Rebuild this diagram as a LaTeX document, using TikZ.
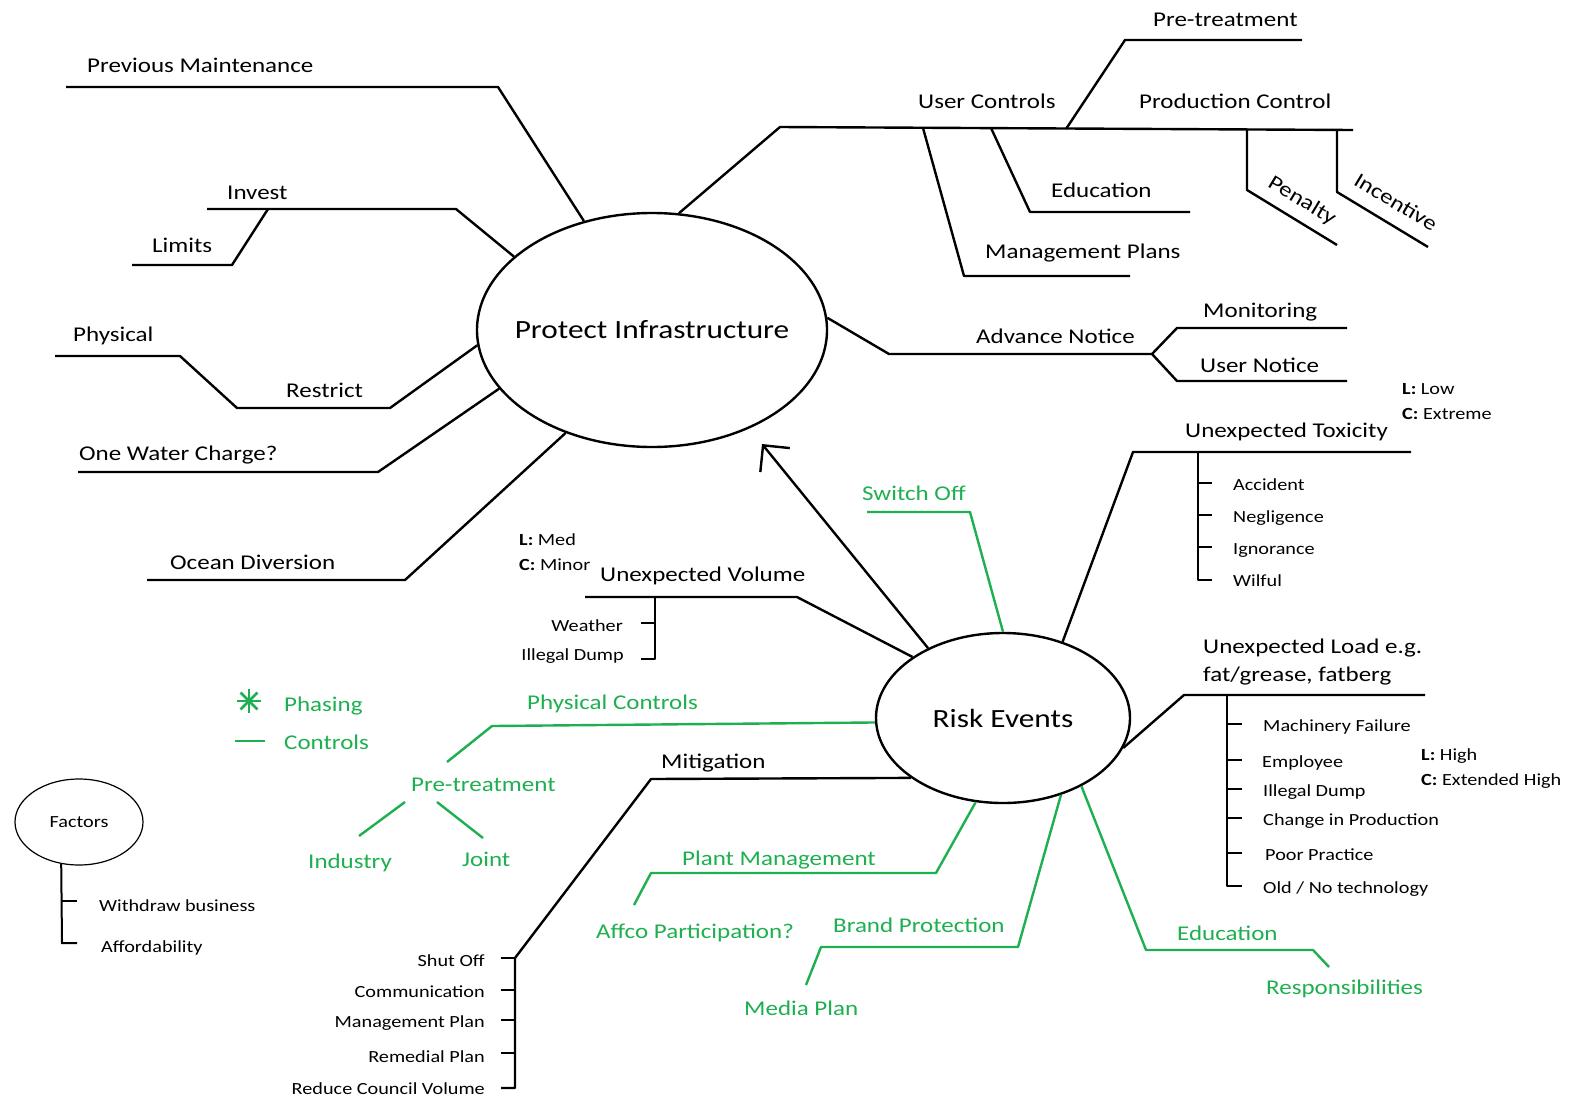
\documentclass[tikz,border=0pt]{standalone}
\usepackage{fontspec}
\setmainfont{Carlito}[FakeStretch=1.19]
\usetikzlibrary{arrows.meta,shapes.geometric}
\definecolor{gr}{RGB}{30,176,80}
\begin{document}
\begin{tikzpicture}[x=1pt,y=-1pt,
  bl/.style={line width=2.4pt, line join=round},
  gl/.style={bl, draw=gr},
  lab/.style={anchor=mid west, inner sep=0pt, yshift=-6pt, font=\fontsize{21}{24}\selectfont},
  glab/.style={lab, text=gr},
  sm/.style={anchor=mid west, inner sep=0pt, yshift=-5pt, font=\fontsize{17}{20}\selectfont},
  smr/.style={sm, anchor=mid east},
  lc/.style={sm},
  bigell/.style={draw, ellipse, line width=2.4pt, inner sep=0pt},
  bigtxt/.style={inner sep=0pt, font=\fontsize{26.3}{30}\selectfont},
]
\useasboundingbox[fill=white] (0,0) rectangle (1573,1098);

% ---------- main ellipses ----------
\node[bigell, minimum width=350pt, minimum height=234pt] (pi) at (652,330) {};
\node[bigtxt] (pit) at (pi.center) {Protect Infrastructure};
\node[bigell, minimum width=254pt, minimum height=170pt] (re) at (1003,718) {};
\node[bigtxt] (ret) at (re.center) {Risk Events};
\node[draw, ellipse, line width=1.2pt, minimum width=128pt, minimum height=86pt, inner sep=0pt] (fac) at (79,822) {};
\node[inner sep=0pt, font=\fontsize{17}{20}\selectfont] (fact) at (fac.center) {Factors};

% ---------- coordinates ----------
\coordinate (pmE) at (66,87);
\coordinate (invE) at (207,209);
\coordinate (limE) at (132,265);
\coordinate (phyE) at (55,356);
\coordinate (owcE) at (78,472);
\coordinate (ocE) at (147,580);
\coordinate (ucE) at (1353,130);
\coordinate (ptE) at (1302,40);
\coordinate (mpE) at (1130,276);
\coordinate (edE) at (1190,212);
\coordinate (penE) at (1337,245);
\coordinate (incE) at (1428,247);
\coordinate (anF) at (1152,354);
\coordinate (monE) at (1347,328);
\coordinate (unE) at (1347,381);
\coordinate (toxE) at (1411,452);
\coordinate (loadE) at (1425,695);
\coordinate (volE) at (585,597);
\coordinate (arT) at (762,444);
\coordinate (mitB) at (515,958);
\coordinate (swE) at (867,512);
\coordinate (pcE) at (447,762);
\coordinate (pmgE) at (634,905);
\coordinate (bpE) at (806,985);
\coordinate (eduE) at (1329,967);

% ---------- Protect Infrastructure branches ----------
\draw[bl] (pi.122.8) -- (498,87) -- (pmE);
\draw[bl] (pi.152) -- (456,209) -- (invE);
\draw[bl] (268,209) -- (232,265) -- (limE);
\draw[bl] (pi.185.6) -- (390,408) -- (237,408) -- (180,356) -- (phyE);
\draw[bl] (pi.201.8) -- (378,472) -- (owcE);
\draw[bl] (pi.230.2) -- (405,580) -- (ocE);
\draw[bl] (pi.77.1) -- (780,127) -- (ucE);
\draw[bl] (1066,129) -- (1125,40) -- (ptE);
\draw[bl] (923,128) -- (964,276) -- (mpE);
\draw[bl] (991,128) -- (1030,212) -- (edE);
\draw[bl] (1247,130) -- (1247,190) -- (penE);
\draw[bl] (1337,131) -- (1337,192) -- (incE);
\draw[bl] (pi.4.9) -- (889,354) -- (anF);
\draw[bl] (anF) -- (1177,328) -- (monE);
\draw[bl] (anF) -- (1177,381) -- (unE);

\node[lab] (tpm) at (87,64) {Previous Maintenance};
\node[lab] (tinv) at (227,191) {Invest};
\node[lab] (tlim) at (152,244) {Limits};
\node[lab] (tphy) at (73,333) {Physical};
\node[lab] (tres) at (286,389) {Restrict};
\node[lab] (towc) at (79,452) {One Water Charge?};
\node[lab] (toc) at (170,561) {Ocean Diversion};
\node[lab] (tuc) at (918,100) {User Controls};
\node[lab] (tpt) at (1153,18) {Pre-treatment};
\node[lab] (tpc) at (1139,100) {Production Control};
\node[lab] (ted) at (1051,189) {Education};
\node[lab] (tmp) at (985,250) {Management Plans};
\node[lab, anchor=center, yshift=6pt, rotate=-31] (tpen) at (1302,201) {Penalty};
\node[lab, anchor=center, yshift=6pt, rotate=-31] (tinc) at (1396,202) {Incentive};
\node[lab] (tan) at (976,335) {Advance Notice};
\node[lab] (tmon) at (1203,309) {Monitoring};
\node[lab] (tun) at (1200,364) {User Notice};

% ---------- Risk Events branches ----------
\draw[bl] (re.52.9) -- (1133,452) -- (toxE);
\draw[bl] (1198,452) -- (1198,580) -- (1212,580);
\foreach \yy in {483,515,547} \draw[bl] (1198,\yy) -- (1212,\yy);
\node[lab] (ttox) at (1185,429) {Unexpected Toxicity};
\node[lc] (tlc1) at (1402,387) {\textbf{L:} Low};
\node[lc] (tlc2) at (1402,412) {\textbf{C:} Extreme};
\node[sm] (tacc) at (1233,483) {Accident};
\node[sm] (tneg) at (1233,515) {Negligence};
\node[sm] (tign) at (1233,547) {Ignorance};
\node[sm] (twil) at (1233,579) {Wilful};

\draw[bl] (re.-14.4) -- (1184,695) -- (loadE);
\draw[bl] (1227,695) -- (1227,886) -- (1242,886);
\foreach \yy in {724,760,789,818,853} \draw[bl] (1227,\yy) -- (1242,\yy);
\node[lab] (tload1) at (1203,645) {Unexpected Load e.g.};
\node[lab] (tload2) at (1203,673) {fat/grease, fatberg};
\node[sm] (tmf) at (1263,724) {Machinery Failure};
\node[sm] (temp) at (1262,760) {Employee};
\node[sm] (tid) at (1263,789) {Illegal Dump};
\node[sm] (tcp) at (1263,818) {Change in Production};
\node[sm] (tpp) at (1265,853) {Poor Practice};
\node[sm] (tont) at (1263,886) {Old / No technology};
\node[lc] (tlc3) at (1421,753) {\textbf{L:} High};
\node[lc] (tlc4) at (1421,778) {\textbf{C:} Extended High};

\draw[bl] (re.146.6) -- (797,597) -- (volE);
\draw[bl] (655,597) -- (655,659) -- (641,659);
\draw[bl] (641,623) -- (655,623);
\node[lab] (tvol) at (600,573) {Unexpected Volume};
\node[lc] (tlc5) at (519,538) {\textbf{L:} Med};
\node[lc] (tlc6) at (519,563) {\textbf{C:} Minor};
\node[smr] (twea) at (623,624) {Weather};
\node[smr] (tid2) at (624,653) {Illegal Dump};

\draw[line width=2.4pt, -{Straight Barb[length=19pt, width=38pt, line width=2.4pt]}] (re.137) -- (arT);

\draw[bl] (re.213) -- (651,779) -- (mitB) -- (515,1088) -- (501,1088);
\foreach \yy in {958,990,1020,1053} \draw[bl] (501,\yy) -- (515,\yy);
\node[lab] (tmit) at (661,760) {Mitigation};
\node[smr] (tso) at (485,959) {Shut Off};
\node[smr] (tcom) at (485,990) {Communication};
\node[smr] (tmpl) at (485,1020) {Management Plan};
\node[smr] (trp) at (485,1055) {Remedial Plan};
\node[smr] (trcv) at (485,1087) {Reduce Council Volume};

% ---------- green controls ----------
\draw[gl] (re.90) -- (970,512) -- (swE);
\node[glab] (tsw) at (862,492) {Switch Off};
\draw[gl] (re.182) -- (492,726) -- (pcE);
\node[glab] (tpcs) at (527,701) {Physical Controls};
\node[glab] (tpt2) at (411,783) {Pre-treatment};
\coordinate (indS) at (405,802);
\coordinate (joS) at (437,802);
\draw[gl] (indS) -- (359,836);
\draw[gl] (joS) -- (483,838);
\node[glab] (tind) at (308,860) {Industry};
\node[glab] (tjo) at (462,858) {Joint};

\draw[gl] (re.252) -- (936,873) -- (651,873) -- (pmgE);
\node[glab] (tplm) at (682,857) {Plant Management};
\node[glab] (taff) at (596,930) {Affco Participation?};
\draw[gl] (re.307.6) -- (1018,947) -- (821,947) -- (bpE);
\node[glab] (tbp) at (833,924) {Brand Protection};
\node[glab] (tmed) at (744,1007) {Media Plan};
\draw[gl] (re.319.3) -- (1146,950) -- (1313,950) -- (eduE);
\node[glab] (tedu) at (1177,932) {Education};
\node[glab] (tresp) at (1266,986) {Responsibilities};

% ---------- legend ----------
\coordinate (ast) at (249,701);
\foreach \a in {0,45,90,135} \draw[gr, line width=2.6pt] (ast) -- ++(\a:12) (ast) -- ++(\a+180:12);
\coordinate (dashA) at (235,741);
\coordinate (dashB) at (265,741);
\draw[gl] (dashA) -- (dashB);
\node[glab] (tphs) at (284,703) {Phasing};
\node[glab] (tctl) at (284,741) {Controls};

% ---------- factors ----------
\draw[line width=2pt] (fac.247.7) -- (62,943) -- (77,943);
\draw[line width=2pt] (62,901) -- (77,901);
\node[sm] (twb) at (99,904) {Withdraw business};
\node[sm] (taff2) at (101,945) {Affordability};
\end{tikzpicture}
\end{document}
